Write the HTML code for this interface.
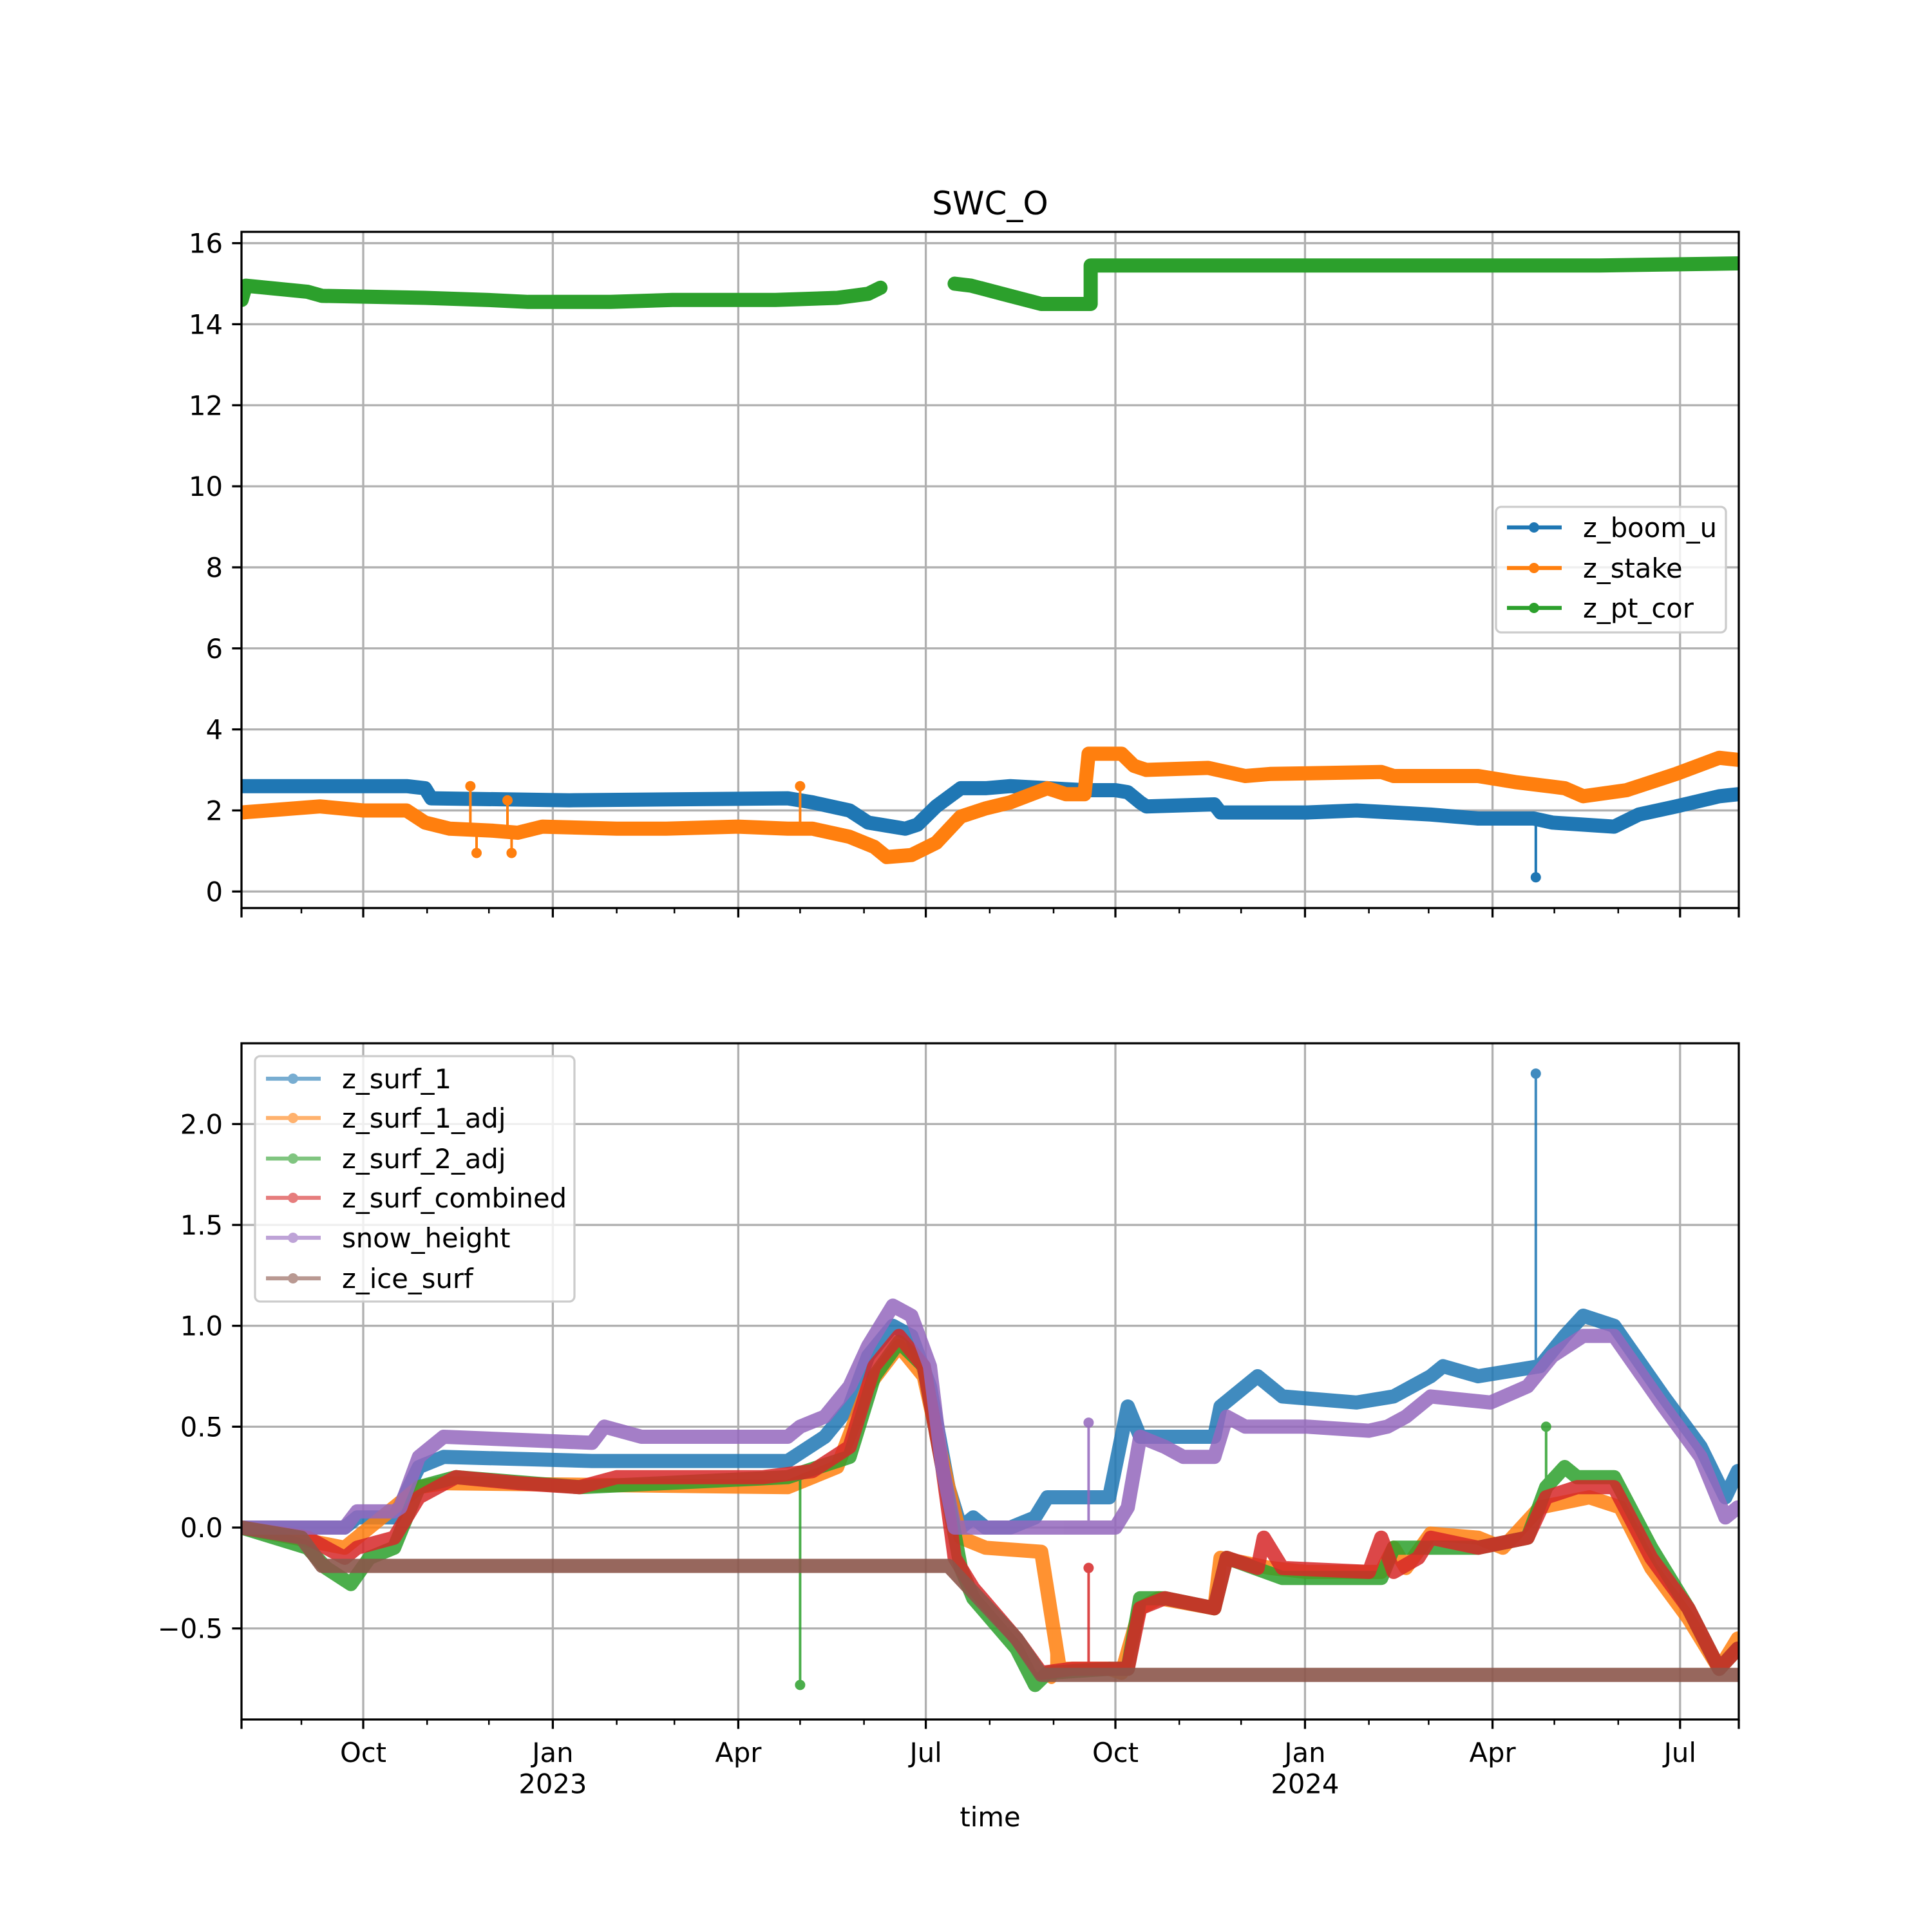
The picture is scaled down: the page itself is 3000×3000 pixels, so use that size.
<!DOCTYPE html>
<html><head><meta charset="utf-8"><style>
html,body{margin:0;padding:0;background:#fff}
svg{display:block}
text{font-family:"DejaVu Sans","Liberation Sans",sans-serif;fill:#000}
</style></head><body>
<svg id="fig" width="3000" height="3000" viewBox="0 0 3000 3000" xmlns="http://www.w3.org/2000/svg">
<rect width="3000" height="3000" fill="#fff"/>
<defs>
<clipPath id="clipTop"><rect x="375" y="360" width="2325" height="1050"/></clipPath>
<clipPath id="clipBot"><rect x="375" y="1620" width="2325" height="1050"/></clipPath>
</defs>
<g id="top"></g>
<g id="bot"></g>
</svg>
<script>
// days since 2022-10-01
const majorTickDays = [0, 92, 182, 273, 365, 457, 548, 639];
const majorTickLabels = ["Oct", "Jan\n2023", "Apr", "Jul", "Oct", "Jan\n2024", "Apr", "Jul"];
const minorTickDays = [-30, 31, 61, 123, 151, 212, 243, 304, 335, 396, 426, 488, 517, 578, 609];
const topYTicks = [0, 2, 4, 6, 8, 10, 12, 14, 16];
const botYTicks = [-0.5, 0, 0.5, 1.0, 1.5, 2.0];
const botYLabels = ["\u22120.5", "0.0", "0.5", "1.0", "1.5", "2.0"];

// top panel
const ptDays1 = [-59,-57,-27,-20,30,60,80,120,150,200,230,245,251];
const ptVals1 = [14.6,14.95,14.8,14.7,14.65,14.6,14.55,14.55,14.6,14.6,14.65,14.75,14.9];
const ptDays2 = [287,295,310,329,353,353,400,500,600,667];
const ptVals2 = [15.0,14.95,14.75,14.5,14.5,15.45,15.45,15.45,15.45,15.5];
const boomDays = [-59,21,30,33,100,206,218,236,245,257,263,269,278,290,302,314,332,350,365,371,377,380,413,416,458,482,518,541,568,577,607,619,637,658,667];
const boomVals = [2.6,2.6,2.55,2.3,2.25,2.3,2.2,2.0,1.7,1.6,1.55,1.65,2.1,2.55,2.55,2.6,2.55,2.5,2.5,2.45,2.2,2.1,2.15,1.95,1.95,2.0,1.9,1.8,1.8,1.7,1.6,1.9,2.1,2.35,2.4];
const boomSpikeDays = [569];
const boomSpikeVals = [0.35];
const stakeDays = [-59,-21,0,21,30,42,63,75,87,123,147,182,206,218,236,248,254,266,278,290,302,314,332,341,350,352,368,374,380,410,428,440,494,500,541,559,583,592,613,637,658,667];
const stakeVals = [1.95,2.1,2.0,2.0,1.7,1.55,1.5,1.45,1.6,1.55,1.55,1.6,1.55,1.55,1.35,1.1,0.85,0.9,1.2,1.85,2.05,2.2,2.55,2.4,2.4,3.4,3.4,3.1,3.0,3.05,2.85,2.9,2.95,2.85,2.85,2.7,2.55,2.35,2.5,2.9,3.3,3.25];
const stakeSpikeDays = [52,55,70,72,212];
const stakeSpikeVals = [2.6,0.95,2.25,0.95,2.6];

// bottom panel
const surf1Days = [-59,-9,-3,15,27,39,111,135,206,224,236,245,257,266,275,284,290,296,302,314,326,332,350,362,371,377,389,413,416,434,446,482,500,518,524,541,571,583,592,607,631,649,661,667];
const surf1Vals = [0,0,0.05,0.05,0.3,0.35,0.33,0.33,0.33,0.45,0.6,0.85,1.0,0.95,0.7,0.2,0.0,0.05,0.0,0.0,0.05,0.15,0.15,0.15,0.6,0.45,0.45,0.45,0.6,0.75,0.65,0.62,0.65,0.75,0.8,0.75,0.8,0.95,1.05,1.0,0.65,0.4,0.15,0.28];
const surf1SpikeDays = [569];
const surf1SpikeVals = [2.25];
const adjDays = [-59,-9,27,39,206,230,245,260,272,284,290,302,329,338,362,368,377,386,413,416,440,458,494,500,506,518,541,553,571,595,610,625,643,658,667];
const adjVals = [0,-0.1,0.2,0.22,0.2,0.3,0.7,0.9,0.75,0.2,-0.05,-0.1,-0.12,-0.7,-0.7,-0.72,-0.4,-0.35,-0.4,-0.15,-0.2,-0.22,-0.22,-0.1,-0.2,-0.03,-0.05,-0.1,0.1,0.15,0.1,-0.2,-0.45,-0.7,-0.55];
const adjSpikeDays = [334];
const adjSpikeVals = [-0.75];
const s2Days = [-59,-27,-18,-6,3,15,27,45,105,206,236,248,260,272,281,290,296,317,326,332,362,371,377,389,413,419,446,494,500,541,565,574,583,589,607,625,643,658,667];
const s2Vals = [0,-0.1,-0.2,-0.28,-0.15,-0.1,0.2,0.25,0.2,0.25,0.35,0.75,0.92,0.8,0.3,-0.2,-0.35,-0.6,-0.78,-0.72,-0.7,-0.7,-0.35,-0.35,-0.4,-0.15,-0.25,-0.25,-0.1,-0.1,-0.05,0.2,0.3,0.25,0.25,-0.1,-0.4,-0.7,-0.6];
const s2SpikeDays = [212,574];
const s2SpikeVals = [-0.78,0.5];
const combDays = [-59,-27,-9,-3,15,27,45,75,105,123,194,218,236,248,260,272,281,287,296,317,329,344,362,371,377,389,413,419,434,437,446,488,494,500,512,518,541,565,574,589,607,625,643,658,667];
const combVals = [0,-0.05,-0.15,-0.1,-0.05,0.15,0.25,0.22,0.2,0.25,0.25,0.28,0.4,0.8,0.95,0.8,0.3,-0.15,-0.3,-0.55,-0.72,-0.7,-0.7,-0.7,-0.4,-0.35,-0.4,-0.15,-0.2,-0.05,-0.2,-0.22,-0.05,-0.22,-0.15,-0.05,-0.1,-0.05,0.15,0.2,0.2,-0.15,-0.4,-0.7,-0.6];
const combSpikeDays = [352];
const combSpikeVals = [-0.2];
const snowDays = [-59,-9,-3,15,18,27,39,111,117,135,206,212,224,236,245,257,266,275,281,287,365,371,377,389,398,413,419,428,458,488,497,506,518,547,565,577,592,601,607,631,649,661,667];
const snowVals = [0,0,0.08,0.08,0.1,0.35,0.45,0.42,0.5,0.45,0.45,0.5,0.55,0.7,0.9,1.1,1.05,0.8,0.3,0,0,0.1,0.45,0.4,0.35,0.35,0.55,0.5,0.5,0.48,0.5,0.55,0.65,0.62,0.7,0.85,0.95,0.95,0.95,0.6,0.35,0.05,0.1];
const snowSpikeDays = [352];
const snowSpikeVals = [0.52];
const iceDays = [-59,-30,-20,284,317,329,667];
const iceVals = [0,-0.05,-0.19,-0.19,-0.55,-0.73,-0.73];

const NS = "http://www.w3.org/2000/svg";
const X0 = 375, X1 = 2700;
const xS = d => 564 + d * 3.2;
const yTop = v => 1384.3 - 62.92 * v;
const yBot = v => 2372 - 313.3 * v;

function mk(tag, attrs, parent) {
  const e = document.createElementNS(NS, tag);
  for (const k in attrs) e.setAttribute(k, attrs[k]);
  parent.appendChild(e);
  return e;
}

function drawAxes(g, top, bottom, ys, yTicks, yLabels, showX) {
  const grid = mk("g", {}, g);
  
  
  majorTickDays.forEach(d => {
    mk("line", {x1: xS(d), x2: xS(d), y1: top, y2: bottom, stroke: "#b0b0b0", "stroke-width": 3.3}, grid);
  });
  yTicks.forEach(v => {
    mk("line", {x1: X0, x2: X1, y1: ys(v), y2: ys(v), stroke: "#b0b0b0", "stroke-width": 3.3}, grid);
  });
  const ticks = mk("g", {}, g);
  
  
  majorTickDays.concat([(X0 - 564) / 3.2, (X1 - 564) / 3.2]).forEach(d => {
    mk("line", {x1: xS(d), x2: xS(d), y1: bottom, y2: bottom + 14.6, stroke: "#000", "stroke-width": 3.3}, ticks);
  });
  minorTickDays.forEach(d => {
    mk("line", {x1: xS(d), x2: xS(d), y1: bottom, y2: bottom + 8.3, stroke: "#000", "stroke-width": 2.5}, ticks);
  });
  yTicks.forEach((v, i) => {
    mk("line", {x1: X0 - 14.6, x2: X0, y1: ys(v), y2: ys(v), stroke: "#000", "stroke-width": 3.3}, ticks);
    const t = mk("text", {x: X0 - 29, y: ys(v) + 15, "font-size": 41.7, "text-anchor": "end"}, ticks);
    
    
    t.textContent = yLabels[i];
  });
  if (showX) {
    majorTickDays.forEach((d, i) => {
      const parts = majorTickLabels[i].split("\n");
      parts.forEach((p, j) => {
        const t = mk("text", {x: xS(d), y: bottom + 29 + 37 + j * 48.5, "font-size": 41.7, "text-anchor": "middle"}, ticks);
        
        
        t.textContent = p;
      });
    });
  }
}

function frame(g, top, bottom) {
  const r = mk("rect", {x: X0, y: top, width: X1 - X0, height: bottom - top, fill: "none", stroke: "#000", "stroke-width": 3.3}, g);
  
  
}

function series(g, name, days, vals, color, ys, alpha, clip, spikeDays, spikeVals) {
  const sg = mk("g", {"clip-path": "url(#" + clip + ")", opacity: alpha}, g);
  
  
  const pts = days.map((d, i) => xS(d).toFixed(1) + "," + ys(vals[i]).toFixed(1)).join(" ");
  const pl = mk("polyline", {points: pts, fill: "none", stroke: color, "stroke-width": 22, "stroke-linejoin": "round", "stroke-linecap": "round"}, sg);
  
  
  (spikeDays || []).forEach((d, i) => {
    let base = vals[0];
    for (let k = 0; k < days.length - 1; k++) {
      if (d >= days[k] && d <= days[k + 1]) {
        const f = (d - days[k]) / ((days[k + 1] - days[k]) || 1);
        base = vals[k] + f * (vals[k + 1] - vals[k]);
      }
    }
    const ln = mk("line", {x1: xS(d), x2: xS(d), y1: ys(base), y2: ys(spikeVals[i]), stroke: color, "stroke-width": 4}, sg);
    
    
    const c = mk("circle", {cx: xS(d), cy: ys(spikeVals[i]), r: 8, fill: color}, sg);
    
    
  });
}

function legend(g, x, y, w, h, items, rowY, alpha) {
  const lg = mk("g", {}, g);
  
  
  mk("rect", {x: x, y: y, width: w, height: h, rx: 8, fill: "#fff", "fill-opacity": 0.8, stroke: "#cccccc", "stroke-width": 3.3}, lg);
  items.forEach((it, i) => {
    const eg = mk("g", {opacity: alpha}, lg);
    
    
    const yy = rowY[i];
    mk("line", {x1: x + 17, x2: x + 102, y1: yy, y2: yy, stroke: it[1], "stroke-width": 6.25}, eg);
    mk("circle", {cx: x + 59, cy: yy, r: 8, fill: it[1]}, eg);
    const t = mk("text", {x: x + 135, y: yy + 15, "font-size": 41.7}, lg);
    
    
    t.textContent = it[0];
  });
}

const gT = document.getElementById("top");
const gB = document.getElementById("bot");
drawAxes(gT, 360, 1410, yTop, topYTicks, topYTicks.map(String), false);
drawAxes(gB, 1620, 2670, yBot, botYTicks, botYLabels, true);

series(gT, "z-boom-u", boomDays, boomVals, "#1f77b4", yTop, 1, "clipTop", boomSpikeDays, boomSpikeVals);
series(gT, "z-stake", stakeDays, stakeVals, "#ff7f0e", yTop, 1, "clipTop", stakeSpikeDays, stakeSpikeVals);
series(gT, "z-pt-cor-a", ptDays1, ptVals1, "#2ca02c", yTop, 1, "clipTop");
series(gT, "z-pt-cor-b", ptDays2, ptVals2, "#2ca02c", yTop, 1, "clipTop");

series(gB, "z-surf-1", surf1Days, surf1Vals, "#1f77b4", yBot, 0.85, "clipBot", surf1SpikeDays, surf1SpikeVals);
series(gB, "z-surf-1-adj", adjDays, adjVals, "#ff7f0e", yBot, 0.85, "clipBot", adjSpikeDays, adjSpikeVals);
series(gB, "z-surf-2-adj", s2Days, s2Vals, "#2ca02c", yBot, 0.85, "clipBot", s2SpikeDays, s2SpikeVals);
series(gB, "z-surf-combined", combDays, combVals, "#d62728", yBot, 0.85, "clipBot", combSpikeDays, combSpikeVals);
series(gB, "snow-height", snowDays, snowVals, "#9467bd", yBot, 0.85, "clipBot", snowSpikeDays, snowSpikeVals);
series(gB, "z-ice-surf", iceDays, iceVals, "#8c564b", yBot, 0.9, "clipBot");

frame(gT, 360, 1410);
frame(gB, 1620, 2670);

legend(gT, 2323, 787, 357, 195, [["z_boom_u", "#1f77b4"], ["z_stake", "#ff7f0e"], ["z_pt_cor", "#2ca02c"]], [819, 882, 944], 1);
legend(gB, 396, 1640, 496, 381, [["z_surf_1", "#1f77b4"], ["z_surf_1_adj", "#ff7f0e"], ["z_surf_2_adj", "#2ca02c"], ["z_surf_combined", "#d62728"], ["snow_height", "#9467bd"], ["z_ice_surf", "#8c564b"]], [1675, 1736, 1799, 1860, 1922, 1985], 0.6);

const svg = document.getElementById("fig");
const title = mk("text", {x: 1537.5, y: 333, "font-size": 50, "text-anchor": "middle"}, svg);


title.textContent = "SWC_O";
const xl = mk("text", {x: 1537.5, y: 2836, "font-size": 41.7, "text-anchor": "middle"}, svg);


xl.textContent = "time";
</script>
</body></html>
